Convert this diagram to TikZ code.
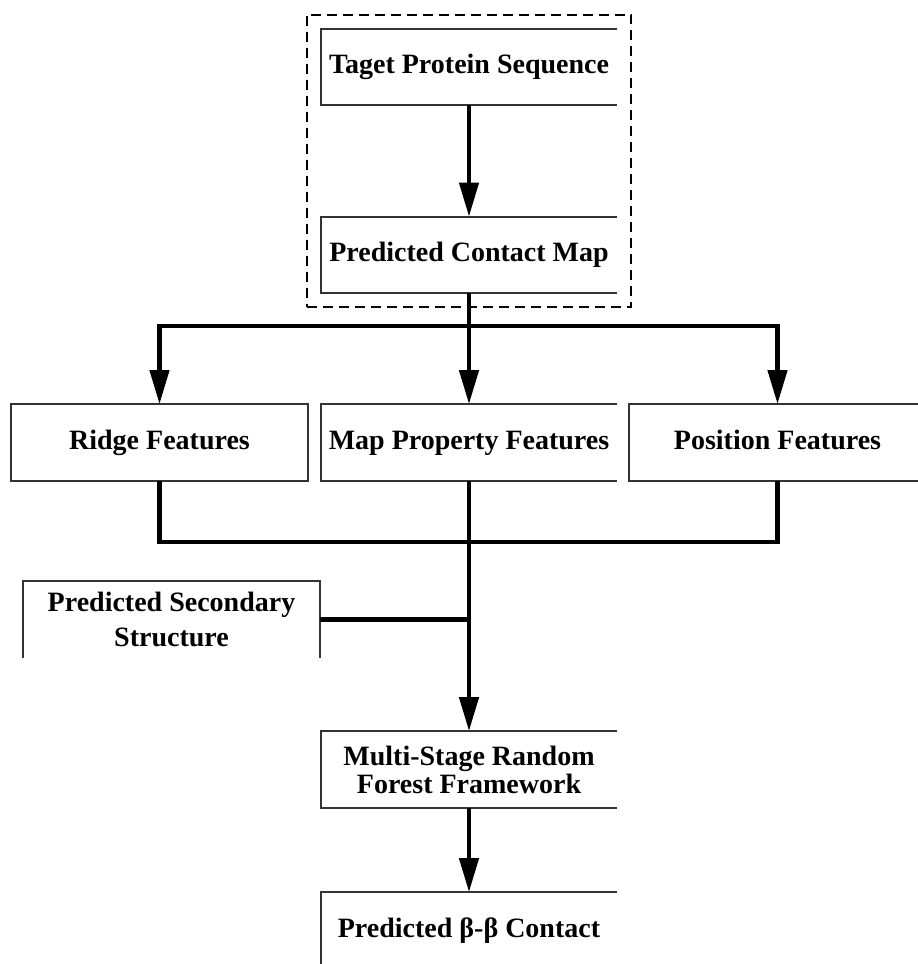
\documentclass[tikz,border=0pt]{standalone}
\usepackage{fontspec}
\setmainfont{Liberation Serif}
\usetikzlibrary{arrows.meta,fit}

\begin{document}
\begin{tikzpicture}[x=0.5pt,y=-0.5pt,
    blockbox/.style={minimum width=148pt,minimum height=38pt,inner sep=0pt,align=center,
                     font=\fontsize{14}{14}\selectfont\bfseries},
    onerow/.style={text height=10pt,text depth=3.5pt},
    rim/.style={line width=1pt,draw=black!80},
    flow/.style={line width=2.2pt},
    flowarrow/.style={flow,-{Triangle[length=17pt,width=9.5pt]}}]
        \useasboundingbox (0,0) rectangle (917,964);

        \node[blockbox,onerow] (seq) at (469,67) {Taget Protein Sequence};
        \node[blockbox,onerow] (cmap) at (469,255) {Predicted Contact Map};
        \node[blockbox,onerow] (ridge) at (159.5,442.5) {Ridge Features};
        \node[blockbox,onerow] (mapprop) at (469,442.5) {Map Property Features};
        \node[blockbox,onerow] (position) at (777.5,442.5) {Position Features};
        \node[blockbox,font=\fontsize{14}{17.5}\selectfont\bfseries] (secondary) at (171.5,619.5) {Predicted Secondary\\Structure};
        \node[blockbox] (msrf) at (469,769.5) {Multi-Stage Random\\Forest Framework};
        \node[blockbox,onerow] (pbb) at (469,930.5) {Predicted β-β Contact};

        \node[draw,line width=1pt,dash pattern=on 5pt off 3pt,fit=(seq)(cmap),inner sep=7pt] (inputgroup) {};

        \draw[rim] (seq.north east) -- (seq.north west) -- (seq.south west) -- (seq.south east);
        \draw[rim] (cmap.north east) -- (cmap.north west) -- (cmap.south west) -- (cmap.south east);
        \draw[rim] (ridge.south west) rectangle (ridge.north east);
        \draw[rim] (mapprop.north east) -- (mapprop.north west) -- (mapprop.south west) -- (mapprop.south east);
        \draw[rim] (position.north east) -- (position.north west) -- (position.south west) -- (position.south east);
        \draw[rim] (secondary.south west) -- (secondary.north west) -- (secondary.north east) -- (secondary.south east);
        \draw[rim] (msrf.north east) -- (msrf.north west) -- (msrf.south west) -- (msrf.south east);
        \draw[rim] (pbb.south west) -- (pbb.north west) -- (pbb.north east);

        \coordinate (split) at (469,326);
        \coordinate (merge) at (469,542);

        \draw[flowarrow] (seq.south) -- (cmap.north);
        \draw[flow] (cmap.south) -- (split);
        \draw[flowarrow] (split) -| (ridge.north);
        \draw[flowarrow] (split) -- (mapprop.north);
        \draw[flowarrow] (split) -| (position.north);
        \draw[flow] (ridge.south) |- (merge) -| (position.south);
        \draw[flow] (mapprop.south) -- (merge);
        \draw[flow] (secondary.east) -- (secondary.east -| merge);
        \draw[flowarrow] (merge) -- (msrf.north);
        \draw[flowarrow] (msrf.south) -- (pbb.north);
\end{tikzpicture}
\end{document}
